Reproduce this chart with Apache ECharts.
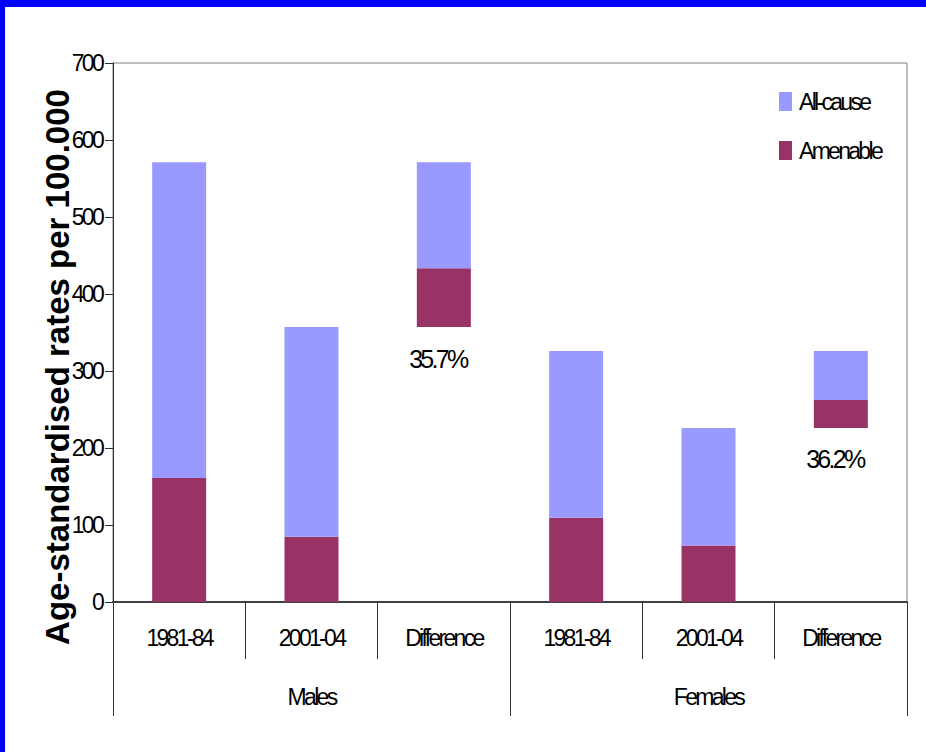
<!DOCTYPE html>
<html>
<head>
<meta charset="utf-8">
<title>Age-standardised mortality rates</title>
<script src="https://cdn.jsdelivr.net/npm/echarts@6/dist/echarts.min.js"></script>
<style>
  html, body { margin: 0; padding: 0; background: #ffffff; }
  #chart { width: 926px; height: 752px; }
  /* tight, condensed-looking label text; the bold axis title keeps normal spacing */
  #chart svg text { letter-spacing: -2.7px; }
  #chart svg text[style*="bold"] { letter-spacing: 0; }
</style>
</head>
<body>
<div id="chart"></div>
<script>
// Rates per 100,000 by sex and period
const groups = ['Males', 'Females'];
const periods = ['1981-84', '2001-04', 'Difference'];
const allCauseMales = [571, 357];
const amenableMales = [161, 84.6];
const allCauseFemales = [326, 226];
const amenableFemales = [109.5, 73.3];
const yTicks = { min: 0, max: 700, step: 100 };

const FONT = "'Liberation Sans', Arial, sans-serif";
const COLOR_ALL = '#9999FF';
const COLOR_AMEN = '#993366';

// Build the six columns: two periods plus a floating "difference" bar per sex
const categories = [];
const baseVals = [];
const amenVals = [];
const restVals = [];
const pctLabels = [];
[[allCauseMales, amenableMales], [allCauseFemales, amenableFemales]].forEach(function (pair) {
  const all = pair[0], amen = pair[1];
  for (let i = 0; i < 2; i++) {
    categories.push(periods[i]);
    baseVals.push(0);
    amenVals.push(amen[i]);
    restVals.push(all[i] - amen[i]);
    pctLabels.push(null);
  }
  const dAll = all[0] - all[1];
  const dAmen = amen[0] - amen[1];
  categories.push(periods[2]);
  baseVals.push(all[1]);
  amenVals.push(dAmen);
  restVals.push(dAll - dAmen);
  pctLabels.push((dAmen / dAll * 100).toFixed(1) + '%');
});

const chart = echarts.init(document.getElementById('chart'), null, { renderer: 'svg' });

chart.setOption({
  animation: false,
  backgroundColor: '#ffffff',
  grid: {
    left: 113, top: 63, right: 19, bottom: 150,
    show: true, borderColor: '#808080', borderWidth: 1, backgroundColor: 'transparent'
  },
  legend: {
    orient: 'vertical',
    left: 779, top: 90,
    padding: 0,
    itemWidth: 13, itemHeight: 19, itemGap: 26,
    icon: 'rect',
    data: ['All-cause', 'Amenable'],
    textStyle: { fontFamily: FONT, fontSize: 23, color: '#000', padding: [0, 0, 0, 2] }
  },
  xAxis: [
    {
      type: 'category',
      data: categories,
      axisLine: { show: true, lineStyle: { color: '#404040', width: 2 } },
      axisTick: { show: true, interval: 0, length: 57, lineStyle: { color: '#303030', width: 1 } },
      axisLabel: { interval: 0, margin: 24, fontFamily: FONT, fontSize: 23, color: '#000' },
      splitLine: { show: false }
    },
    {
      type: 'category',
      data: groups,
      position: 'bottom',
      axisLine: { show: false },
      axisTick: { show: true, interval: 0, length: 114, lineStyle: { color: '#303030', width: 1 } },
      axisLabel: { interval: 0, margin: 83, fontFamily: FONT, fontSize: 23, color: '#000' },
      splitLine: { show: false }
    }
  ],
  yAxis: {
    type: 'value',
    min: yTicks.min, max: yTicks.max, interval: yTicks.step,
    axisLine: { show: true, lineStyle: { color: '#303030', width: 1 } },
    axisTick: { show: true, length: 8, lineStyle: { color: '#303030' } },
    axisLabel: { margin: 11, fontFamily: FONT, fontSize: 23, color: '#000' },
    splitLine: { show: false }
  },
  graphic: [
    { type: 'rect', shape: { x: 0, y: 0, width: 926, height: 7 }, style: { fill: '#0000FF' }, z: 100 },
    { type: 'rect', shape: { x: 0, y: 0, width: 5, height: 752 }, style: { fill: '#0000FF' }, z: 100 },
    {
      type: 'text', x: 57, y: 367, rotation: Math.PI / 2,
      style: {
        text: 'Age-standardised rates per 100.000',
        font: "bold 33px 'Liberation Sans', Arial, sans-serif",
        fill: '#000', align: 'center', verticalAlign: 'middle'
      }
    }
  ],
  series: [
    {
      name: 'base', type: 'bar', stack: 'total', barWidth: 54,
      itemStyle: { color: 'transparent' },
      emphasis: { disabled: true },
      data: baseVals
    },
    {
      name: 'Amenable', type: 'bar', stack: 'total', barWidth: 54,
      itemStyle: { color: COLOR_AMEN },
      emphasis: { disabled: true },
      data: amenVals.map(function (v, i) {
        return pctLabels[i] ? {
          value: v,
          label: {
            show: true, position: 'bottom', distance: 19, offset: [-6, 0],
            formatter: pctLabels[i],
            fontFamily: FONT, fontSize: 25, color: '#000'
          }
        } : v;
      })
    },
    {
      name: 'All-cause', type: 'bar', stack: 'total', barWidth: 54,
      itemStyle: { color: COLOR_ALL },
      emphasis: { disabled: true },
      data: restVals
    }
  ]
});
</script>
</body>
</html>
